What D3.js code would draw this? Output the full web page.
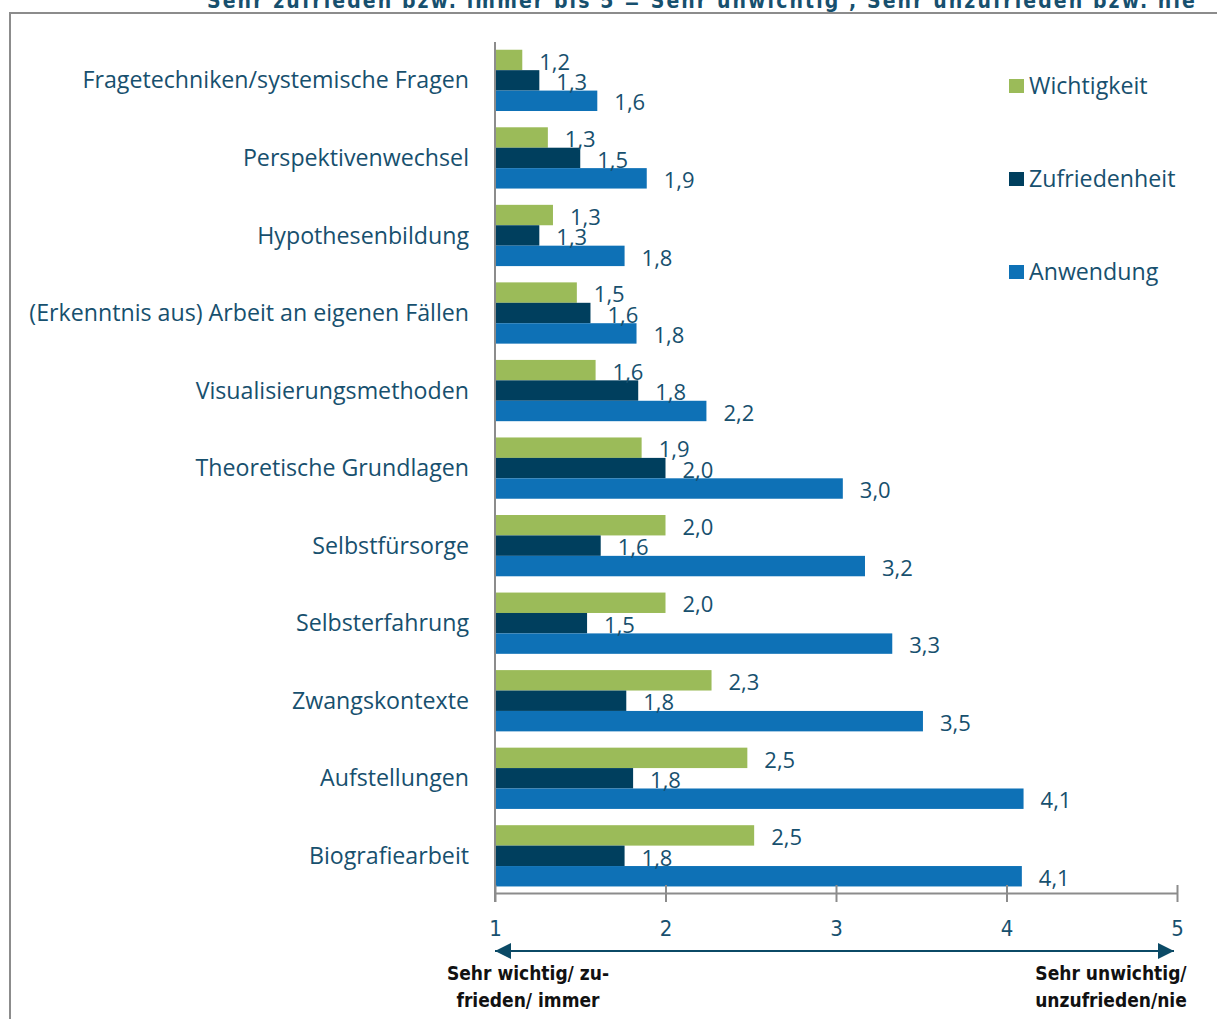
<!DOCTYPE html>
<html lang="de">
<head>
<meta charset="utf-8">
<title>Methoden: Wichtigkeit, Zufriedenheit, Anwendung</title>
<script src="https://cdn.jsdelivr.net/npm/d3@7"></script>
<style>
  html, body { margin: 0; padding: 0; background: #fff; overflow: hidden; }
  svg { display: block; }
</style>
</head>
<body>
<svg id="chart" width="1217" height="1019"></svg>
<script>
// Methods surveyed (top to bottom)
const categories = [
  "Fragetechniken/systemische Fragen",
  "Perspektivenwechsel",
  "Hypothesenbildung",
  "(Erkenntnis aus) Arbeit an eigenen Fällen",
  "Visualisierungsmethoden",
  "Theoretische Grundlagen",
  "Selbstfürsorge",
  "Selbsterfahrung",
  "Zwangskontexte",
  "Aufstellungen",
  "Biografiearbeit"
];

// Mean ratings on a 1–5 scale
const wichtigkeit   = [1.16, 1.31, 1.34, 1.48, 1.59, 1.86, 2.00, 2.00, 2.27, 2.48, 2.52];
const zufriedenheit = [1.26, 1.50, 1.26, 1.56, 1.84, 2.00, 1.62, 1.54, 1.77, 1.81, 1.76];
const anwendung     = [1.60, 1.89, 1.76, 1.83, 2.24, 3.04, 3.17, 3.33, 3.51, 4.10, 4.09];

const seriesNames = ["Wichtigkeit", "Zufriedenheit", "Anwendung"];
const seriesColors = ["#9BBB59", "#003F5E", "#0E71B6"];
const xTicks = [1, 2, 3, 4, 5];
const scaleNote = "Sehr zufrieden bzw. immer bis 5 = Sehr unwichtig , Sehr unzufrieden bzw. nie";
const leftPole = ["Sehr wichtig/ zu-", "frieden/ immer"];
const rightPole = ["Sehr unwichtig/", "unzufrieden/nie"];

const series = [wichtigkeit, zufriedenheit, anwendung];
const textColor = "#17506E";
const axisColor = "#8C8C8C";
const labelFont = "'Open Sans', Lato, sans-serif";
const condFont = "'Liberation Sans Narrow', 'DejaVu Sans Condensed', sans-serif";

const svg = d3.select("#chart");

// Frame around the chart area
svg.append("rect")
  .attr("x", 10).attr("y", 13)
  .attr("width", 1300).attr("height", 1100)
  .attr("fill", "none")
  .attr("stroke", axisColor)
  .attr("stroke-width", 2);

// Scale explanation line above the frame
svg.append("text")
  .attr("x", 207).attr("y", 8)
  .attr("font-family", condFont)
  .attr("font-weight", "bold")
  .attr("font-size", 21)
  .attr("letter-spacing", 2.1)
  .attr("fill", textColor)
  .text(scaleNote);

const x = d3.scaleLinear().domain([1, 5]).range([495, 1177]);

const y = d3.scaleBand()
  .domain(categories)
  .range([41.6, 894.6])
  .paddingInner(0.21)
  .paddingOuter(0.105);

const ySub = d3.scaleBand()
  .domain(seriesNames)
  .range([0, y.bandwidth()]);

const fmt = v => v.toFixed(1).replace(".", ",");

// Bars and value labels
const groups = svg.append("g").selectAll("g")
  .data(categories)
  .join("g")
  .attr("transform", d => `translate(0,${y(d)})`);

seriesNames.forEach((name, si) => {
  groups.append("rect")
    .attr("x", x(1))
    .attr("y", ySub(name))
    .attr("width", (d, i) => x(series[si][i]) - x(1))
    .attr("height", ySub.bandwidth())
    .attr("fill", seriesColors[si]);
});

seriesNames.forEach((name, si) => {
  groups.append("text")
    .attr("x", (d, i) => x(series[si][i]) + 17)
    .attr("y", ySub(name) + ySub.bandwidth() / 2 + 2)
    .attr("dy", "0.35em")
    .attr("font-family", labelFont)
    .attr("font-size", 22)
    .attr("fill", textColor)
    .text((d, i) => fmt(series[si][i]));
});

// Category labels
svg.append("g").selectAll("text")
  .data(categories)
  .join("text")
  .attr("x", 469)
  .attr("y", d => y(d) + y.bandwidth() / 2)
  .attr("dy", "0.35em")
  .attr("text-anchor", "end")
  .attr("font-family", labelFont)
  .attr("font-size", 23.2)
  .attr("fill", textColor)
  .text(d => d);

// Vertical axis line
svg.append("line")
  .attr("x1", x(1)).attr("x2", x(1))
  .attr("y1", 42).attr("y2", 902)
  .attr("stroke", axisColor).attr("stroke-width", 2);

// Horizontal axis
const xAxis = d3.axisBottom(x)
  .tickValues(xTicks)
  .tickSize(0)
  .tickFormat(d => d);

const axisG = svg.append("g")
  .attr("transform", "translate(0,893)")
  .call(xAxis);
axisG.select(".domain").attr("stroke", axisColor).attr("stroke-width", 2);
axisG.selectAll(".tick text")
  .attr("y", 35)
  .attr("dy", "0.35em")
  .attr("font-family", condFont)
  .attr("font-size", 22)
  .attr("fill", textColor);
axisG.selectAll(".tick").append("line")
  .attr("y1", -8).attr("y2", 9)
  .attr("stroke", axisColor).attr("stroke-width", 2);

// Double-headed arrow showing direction of the scale
const defs = svg.append("defs");
defs.append("marker")
  .attr("id", "arrowEnd")
  .attr("viewBox", "0 0 10 10")
  .attr("refX", 10).attr("refY", 5)
  .attr("markerUnits", "userSpaceOnUse")
  .attr("markerWidth", 16).attr("markerHeight", 16)
  .attr("orient", "auto-start-reverse")
  .append("path")
  .attr("d", "M0,0 L10,5 L0,10 Z")
  .attr("fill", "#0B4A66");

svg.append("line")
  .attr("x1", x(1)).attr("x2", x(5) - 3)
  .attr("y1", 951).attr("y2", 951)
  .attr("stroke", "#0B4A66").attr("stroke-width", 2)
  .attr("marker-start", "url(#arrowEnd)")
  .attr("marker-end", "url(#arrowEnd)");

// Pole descriptions
const poleText = (lines, cx) => {
  svg.append("g").selectAll("text")
    .data(lines)
    .join("text")
    .attr("x", cx)
    .attr("y", (d, i) => 980 + i * 27)
    .attr("text-anchor", "middle")
    .attr("font-family", condFont)
    .attr("font-weight", "bold")
    .attr("font-size", 19)
    .attr("fill", "#111")
    .text(d => d);
};
poleText(leftPole, 528);
poleText(rightPole, 1111);

// Legend
const legend = svg.append("g").selectAll("g")
  .data(seriesNames)
  .join("g")
  .attr("transform", (d, i) => `translate(1009,${79 + i * 93})`);
legend.append("rect")
  .attr("width", 15).attr("height", 14)
  .attr("fill", (d, i) => seriesColors[i]);
legend.append("text")
  .attr("x", 20).attr("y", 7)
  .attr("dy", "0.35em")
  .attr("font-family", labelFont)
  .attr("font-size", 23.2)
  .attr("fill", textColor)
  .text(d => d);
</script>
</body>
</html>
